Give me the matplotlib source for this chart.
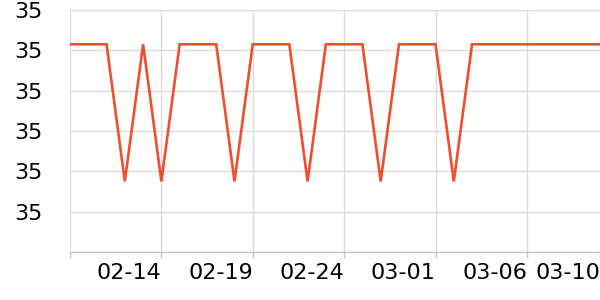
import matplotlib
matplotlib.use('Agg')
import matplotlib.pyplot as plt
import numpy as np

# daily readings, 02-09 .. 03-10
dates = ['02-09', '02-10', '02-11', '02-12', '02-13', '02-14', '02-15', '02-16',
         '02-17', '02-18', '02-19', '02-20', '02-21', '02-22', '02-23', '02-24',
         '02-25', '02-26', '02-27', '02-28', '03-01', '03-02', '03-03', '03-04',
         '03-05', '03-06', '03-07', '03-08', '03-09', '03-10']
values = [35.0043, 35.0043, 35.0043, 34.9975, 35.0043, 34.9975, 35.0043, 35.0043,
          35.0043, 34.9975, 35.0043, 35.0043, 35.0043, 34.9975, 35.0043, 35.0043,
          35.0043, 34.9975, 35.0043, 35.0043, 35.0043, 34.9975, 35.0043, 35.0043,
          35.0043, 35.0043, 35.0043, 35.0043, 35.0043, 35.0043]
y_ticks = [34.994, 34.996, 34.998, 35.000, 35.002, 35.004, 35.006]
x_tick_labels = ['02-14', '02-19', '02-24', '03-01', '03-06', '03-10']

line_color = '#f04e30'
grid_color = '#dcdcdc'

fig = plt.figure(figsize=(6, 3), dpi=100)
ax = fig.add_axes([70 / 600, 48 / 300, 530 / 600, 242 / 300])

x = np.arange(len(dates))
ax.plot(x, values, color=line_color, linewidth=1.9, solid_joinstyle='miter',
        clip_on=True, zorder=3)

ax.set_xlim(0, len(dates) - 1)
ax.set_ylim(y_ticks[0], y_ticks[-1])

# grid lines
for yv in y_ticks:
    ax.axhline(yv, color=grid_color, linewidth=1, zorder=1)
grid_x = [0] + [dates.index(d) for d in x_tick_labels[:-1]]
for xv in grid_x:
    ax.axvline(xv, color=grid_color, linewidth=1, zorder=1)

ax.set_yticks(y_ticks[1:])
ax.set_yticklabels(['%.0f' % v for v in y_ticks[1:]])
ax.tick_params(axis='y', length=0, pad=20, labelsize=16, labelcolor='black')

ax.set_xticks([0] + [dates.index(d) for d in x_tick_labels])
ax.set_xticklabels([''] + x_tick_labels)
ax.tick_params(axis='x', length=4, width=1, color='#c8c8c8', pad=4,
               labelsize=16, labelcolor='black')
plt.setp(ax.get_xticklabels(), ha='right')

for side in ['top', 'right', 'left']:
    ax.spines[side].set_visible(False)
ax.spines['bottom'].set_color('#c8c8c8')
ax.spines['bottom'].set_linewidth(1)

fig.savefig('out.png', dpi=100, facecolor='white')
